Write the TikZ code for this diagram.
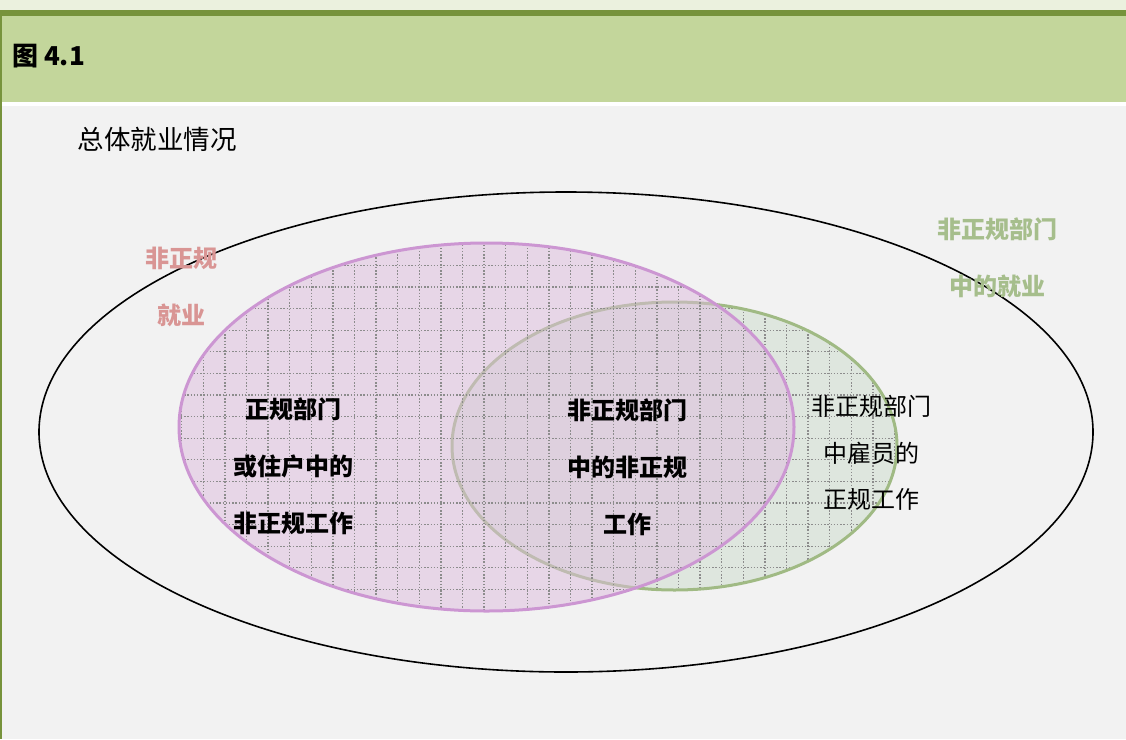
\documentclass[tikz,border=0pt]{standalone}
\usepackage{fontspec}
\setmainfont{Noto Sans CJK SC}

\definecolor{topStrip}{RGB}{235,241,222}
\definecolor{barGreen}{RGB}{119,147,60}
\definecolor{headGreen}{RGB}{195,214,155}
\definecolor{bodyGray}{RGB}{242,242,242}
\definecolor{pinkLine}{RGB}{204,150,210}
\definecolor{pinkFill}{RGB}{222,188,222}
\definecolor{greenLine}{RGB}{160,186,132}
\definecolor{greenFill}{RGB}{204,220,204}
\definecolor{redText}{RGB}{217,149,148}
\definecolor{greenText}{RGB}{166,190,140}

\tikzset{
  gridline/.style={black!45, line width=1.3pt, dash pattern=on 1.4pt off 1.8pt},
  label/.style={align=center, inner sep=0.75pt, font=\fontsize{24}{57}\selectfont},
  boldlabel/.style={label, font=\fontsize{24}{57}\selectfont\bfseries}
}

\begin{document}
\begin{tikzpicture}[x=1pt,y=1pt,yscale=-1]
\useasboundingbox (0,0) rectangle (1126,739);

%Shape: page background and header band
\fill[topStrip] (0,0) rectangle (1126,10);
\fill[barGreen] (0,10) rectangle (1126,16);
\fill[headGreen] (0,16) rectangle (1126,102);
\fill[white] (0,102) rectangle (1126,106);
\fill[bodyGray] (0,106) rectangle (1126,739);
\fill[barGreen] (0,10) rectangle (2,739);

%Shape: Ellipse, total employment
\draw[black, line width=1.6pt] (566,432) ellipse [x radius=527, y radius=240];

%Shape: Ellipse, informal sector (green)
\fill[greenFill, fill opacity=0.5] (674.5,446) ellipse [x radius=222.5, y radius=144];
\begin{scope}
\clip (674.5,446) ellipse [x radius=222.5, y radius=144];
\begin{scope}[shift={(203.3,395)}]
\draw[gridline] (-240,-240) grid[step=21.6] (720,240);
\end{scope}
\end{scope}
\draw[greenLine, line width=3pt] (674.5,446) ellipse [x radius=222.5, y radius=144];

%Shape: Ellipse, informal employment (pink)
\fill[pinkFill, fill opacity=0.5] (486.5,427) ellipse [x radius=307.5, y radius=184];
\begin{scope}
\clip (486.5,427) ellipse [x radius=307.5, y radius=184];
\begin{scope}[shift={(203.3,395)}]
\draw[gridline] (-240,-240) grid[step=21.6] (720,240);
\end{scope}
\end{scope}
\draw[pinkLine, line width=3pt] (486.5,427) ellipse [x radius=307.5, y radius=184];

% Text Node
\node[anchor=west, inner sep=0pt, font=\fontsize{26}{30}\selectfont\bfseries] (fig) at (12,56) {图 4.1};
% Text Node
\node[label, font=\fontsize{26.5}{30}\selectfont] (total) at (157,139) {总体就业情况};
% Text Node
\node[boldlabel, text=redText] (infemp) at (181,287) {非正规\\就业};
% Text Node
\node[boldlabel, text=greenText] (infsec) at (997,258) {非正规部门\\中的就业};
% Text Node
\node[boldlabel] (formal) at (293,466) {正规部门\\或住户中的\\非正规工作};
% Text Node
\node[boldlabel] (both) at (627,467) {非正规部门\\中的非正规\\工作};
% Text Node
\node[label, font=\fontsize{24}{46.5}\selectfont] (employee) at (871,453) {非正规部门\\中雇员的\\正规工作};

\end{tikzpicture}
\end{document}
